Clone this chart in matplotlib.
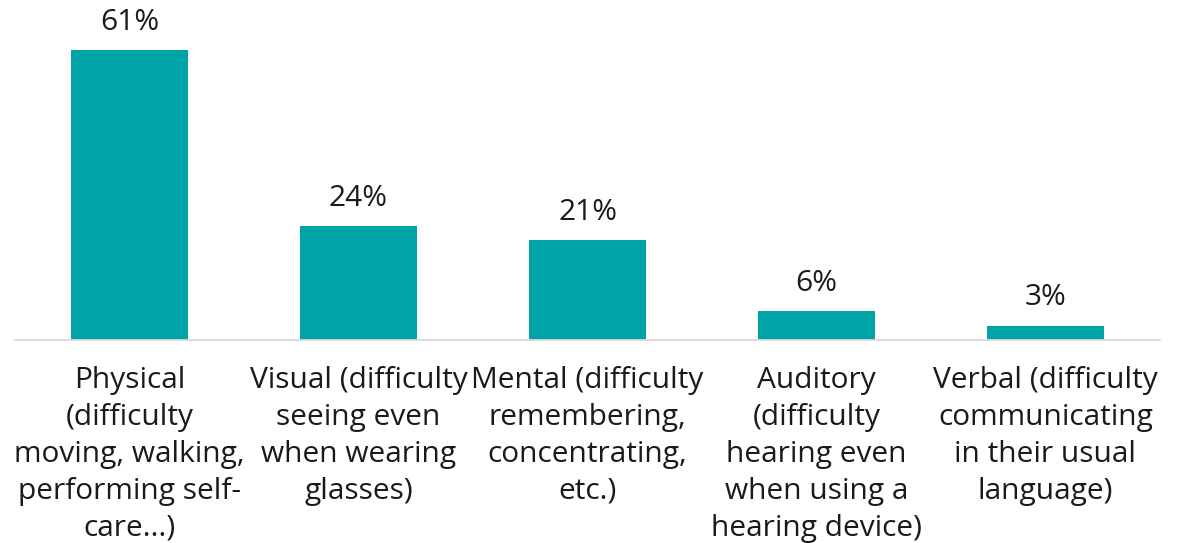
import matplotlib
matplotlib.use("Agg")
import matplotlib.pyplot as plt

categories = [
    "Physical\n(difficulty\nmoving, walking,\nperforming self-\ncare...)",
    "Visual (difficulty\nseeing even\nwhen wearing\nglasses)",
    "Mental (difficulty\nremembering,\nconcentrating,\netc.)",
    "Auditory\n(difficulty\nhearing even\nwhen using a\nhearing device)",
    "Verbal (difficulty\ncommunicating\nin their usual\nlanguage)",
]
values = [61, 24, 21, 6, 3]
value_labels = ["61%", "24%", "21%", "6%", "3%"]

plt.rcParams['font.family'] = ['Open Sans', 'DejaVu Sans']
fig = plt.figure(figsize=(11.86, 5.43), dpi=100)
ax = fig.add_axes([15/1186, (543-340)/543, 1145/1186, 340/543])
x = range(len(values))
ax.bar(x, values, width=0.51, color="#00A3A6", zorder=2)
ax.set_xlim(-0.5, 4.5)
ax.set_ylim(0, 61*340/290)
for xi, v, lab in zip(x, values, value_labels):
    ax.text(xi, v + 2.8, lab, ha="center", va="bottom", fontsize=21.5, color="#1a1a1a", clip_on=False)
for xi, cat in zip(x, categories):
    ax.text(xi, -5.5, cat, ha="center", va="top", fontsize=21.5, color="#1a1a1a",
            linespacing=1.36, clip_on=False)
for s in ["top", "right", "left"]:
    ax.spines[s].set_visible(False)
ax.spines["bottom"].set_color("#D9D9D9")
ax.spines["bottom"].set_linewidth(1.3)
ax.set_xticks([])
ax.set_yticks([])
fig.savefig("out.png", dpi=100)
